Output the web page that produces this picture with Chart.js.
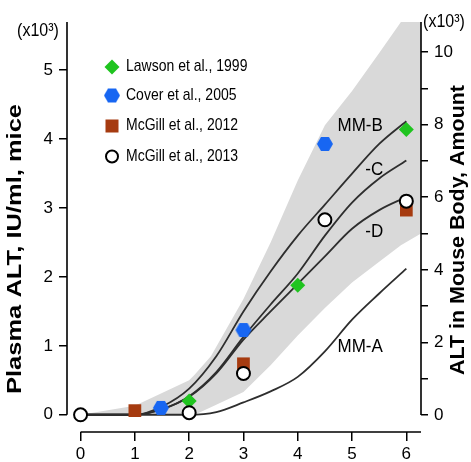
<!DOCTYPE html>
<html>
<head>
<meta charset="utf-8">
<script src="https://cdn.jsdelivr.net/npm/chart.js@4.4.0/dist/chart.umd.min.js"></script>
<style>
  body { margin: 0; background: #fff; }
  canvas { display: block; }
</style>
</head>
<body>
<canvas id="grafico" width="471" height="462"></canvas>
<script>
// Valores (x10^3, eje izquierdo)
const horasCurvas = [0, 1, 1.5, 2, 2.5, 3, 3.5, 4, 4.5, 5, 5.5, 6];
const curvaA = [0, 0, 0, 0, 0.04, 0.18, 0.34, 0.55, 0.92, 1.38, 1.76, 2.12];
const curvaB = [0, 0, 0.12, 0.38, 0.85, 1.5, 2.08, 2.6, 3.05, 3.5, 3.93, 4.26];
const curvaC = [0, 0, 0.08, 0.27, 0.62, 1.13, 1.6, 2.05, 2.6, 3.08, 3.43, 3.69];
const curvaD = [0, 0, 0.08, 0.26, 0.6, 1.09, 1.5, 1.9, 2.3, 2.7, 2.97, 3.16];

// Banda gris (limites superior e inferior)
const horasBanda = [0, 1, 2, 2.1, 2.4, 3, 3.5, 4, 4.5, 5, 5.5, 5.9, 6.27];
const bandaSup = [0, 0.13, 0.5, 0.58, 0.85, 1.68, 2.5, 3.4, 4.2, 4.7, 5.25, 5.7, 5.7];
const bandaInf = [0, 0, 0, 0, 0.11, 0.33, 0.72, 1.15, 1.55, 1.92, 2.22, 2.46, 2.63];

// Puntos experimentales
const lawsonX = [2, 4, 6];
const lawsonY = [0.2, 1.88, 4.14];
const coverX = [1.48, 3, 4.5];
const coverY = [0.1, 1.23, 3.93];
const mcgill12X = [1, 3, 6];
const mcgill12Y = [0.06, 0.74, 2.97];
const mcgill13X = [0, 2, 3, 4.5, 6];
const mcgill13Y = [0, 0.03, 0.6, 2.83, 3.1];

// Ticks
const ticksX = [0, 1, 2, 3, 4, 5, 6];
const ticksIzq = [0, 1, 2, 3, 4, 5];
const ticksDer = [0, 1, 2, 3, 4, 5, 6, 7, 8, 9, 10];

const etiquetasCurvas = [
  { texto: 'MM-B', x: 5.15, y: 4.19 },
  { texto: '-C', x: 5.41, y: 3.55 },
  { texto: '-D', x: 5.41, y: 2.65 },
  { texto: 'MM-A', x: 5.15, y: 0.99 }
];

const verde = '#1fc41f';
const azul = '#1766f2';
const marron = '#a63b10';
const fuente = '"Liberation Sans", Arial, sans-serif';

const puntos = (xs, ys) => xs.map((x, i) => ({ x: x, y: ys[i] }));

function hexagono(color, r) {
  const c = document.createElement('canvas');
  c.width = c.height = Math.ceil(r * 2) + 2;
  const g = c.getContext('2d');
  const m = c.width / 2;
  g.beginPath();
  for (let i = 0; i < 6; i++) {
    const a = Math.PI / 3 * i;
    g.lineTo(m + r * Math.cos(a), m + r * Math.sin(a));
  }
  g.closePath();
  g.fillStyle = color;
  g.fill();
  return c;
}
const hexAzul = hexagono(azul, 8);

function curva(datos) {
  return {
    type: 'line',
    data: puntos(horasCurvas, datos),
    borderColor: '#2e2e2e',
    borderWidth: 1.8,
    pointRadius: 0,
    fill: false,
    cubicInterpolationMode: 'monotone',
    order: 5
  };
}

function textoEstirado(ctx, texto, x, y, rot, sx, sy) {
  ctx.save();
  ctx.translate(x, y);
  ctx.rotate(rot);
  ctx.scale(sx, sy);
  ctx.fillText(texto, 0, 0);
  ctx.restore();
}

const decorado = {
  id: 'decorado',
  afterDraw(chart) {
    const { ctx, scales: { x, y, y1 } } = chart;
    ctx.save();
    // ejes
    ctx.strokeStyle = '#000';
    ctx.lineWidth = 1.6;
    ctx.beginPath();
    ctx.moveTo(x.left, y.top);
    ctx.lineTo(x.left, y.getPixelForValue(0));
    ctx.moveTo(x.right, y.top);
    ctx.lineTo(x.right, y1.getPixelForValue(0));
    ctx.moveTo(x.getPixelForValue(0), x.top);
    ctx.lineTo(x.right, x.top);
    ctx.stroke();

    ctx.fillStyle = '#000';
    ctx.textAlign = 'center';
    ctx.textBaseline = 'middle';

    // titulos de ejes
    ctx.font = 'bold 20px ' + fuente;
    const t1 = 'Plasma ALT, IU/ml, mice';
    textoEstirado(ctx, t1, 15, 249, -Math.PI / 2, 290 / ctx.measureText(t1).width, 1);
    const t2 = 'ALT in Mouse Body, Amount';
    textoEstirado(ctx, t2, 458, 230, -Math.PI / 2, 290 / ctx.measureText(t2).width, 1);

    // multiplicadores
    ctx.font = '16px ' + fuente;
    textoEstirado(ctx, '(x10\u00B3)', 38, 31, 0, 1, 1.15);
    textoEstirado(ctx, '(x10\u00B3)', 444, 22, 0, 1, 1.15);

    // etiquetas de curvas
    ctx.font = '17px ' + fuente;
    etiquetasCurvas.forEach(e => {
      textoEstirado(ctx, e.texto, x.getPixelForValue(e.x), y.getPixelForValue(e.y), 0, 1, 1.12);
    });

    // leyenda
    const filas = [
      { texto: 'Lawson et al., 1999', y: 67 },
      { texto: 'Cover et al., 2005', y: 95.5 },
      { texto: 'McGill et al., 2012', y: 126 },
      { texto: 'McGill et al., 2013', y: 156.5 }
    ];
    const mx = 112;
    // diamante
    ctx.fillStyle = verde;
    ctx.beginPath();
    ctx.moveTo(mx, filas[0].y - 7.5);
    ctx.lineTo(mx + 7.5, filas[0].y);
    ctx.lineTo(mx, filas[0].y + 7.5);
    ctx.lineTo(mx - 7.5, filas[0].y);
    ctx.closePath();
    ctx.fill();
    // hexagono
    ctx.drawImage(hexAzul, mx - hexAzul.width / 2, filas[1].y - hexAzul.height / 2);
    // cuadrado
    ctx.fillStyle = marron;
    ctx.fillRect(mx - 6.5, filas[2].y - 6.5, 13, 13);
    // circulo
    ctx.beginPath();
    ctx.arc(mx, filas[3].y, 6, 0, Math.PI * 2);
    ctx.fillStyle = '#fff';
    ctx.fill();
    ctx.lineWidth = 2;
    ctx.strokeStyle = '#000';
    ctx.stroke();

    ctx.fillStyle = '#000';
    ctx.textAlign = 'left';
    ctx.font = '14px ' + fuente;
    filas.forEach(f => textoEstirado(ctx, f.texto, 126, f.y, 0, 1, 1.15));
    ctx.restore();
  }
};

Chart.defaults.font.family = fuente;
Chart.defaults.color = '#000';

new Chart(document.getElementById('grafico'), {
  type: 'scatter',
  data: {
    datasets: [
      { label: 'Lawson et al., 1999', data: puntos(lawsonX, lawsonY), pointStyle: 'rectRot',
        pointRadius: 7.5, backgroundColor: verde, borderWidth: 0, order: 1 },
      { label: 'Cover et al., 2005', data: puntos(coverX, coverY), pointStyle: hexAzul,
        pointRadius: 8, backgroundColor: azul, borderWidth: 0, order: 1 },
      { label: 'McGill et al., 2012', data: puntos(mcgill12X, mcgill12Y), pointStyle: 'rect',
        pointRadius: 9, backgroundColor: marron, borderWidth: 0, order: 1 },
      { label: 'McGill et al., 2013', data: puntos(mcgill13X, mcgill13Y), pointStyle: 'circle',
        pointRadius: 6.5, backgroundColor: '#fff', borderColor: '#000', borderWidth: 2, order: 0 },
      curva(curvaA),
      curva(curvaB),
      curva(curvaC),
      curva(curvaD),
      { type: 'line', data: puntos(horasBanda, bandaSup), borderWidth: 0, pointRadius: 0,
        tension: 0, fill: '+1', backgroundColor: '#d9d9d9', order: 10 },
      { type: 'line', data: puntos(horasBanda, bandaInf), borderWidth: 0, pointRadius: 0,
        tension: 0, fill: false, order: 10 }
    ]
  },
  options: {
    responsive: false,
    animation: false,
    events: [],
    layout: { padding: { top: 22, left: 0, right: 0, bottom: 0 } },
    plugins: { legend: { display: false }, tooltip: { enabled: false } },
    scales: {
      x: {
        type: 'linear', min: -0.25, max: 6.27,
        afterBuildTicks: s => { s.ticks = ticksX.map(v => ({ value: v })); },
        afterFit: s => { s.height = 30; },
        grid: { drawOnChartArea: false, tickLength: 9, color: '#000', lineWidth: 1.5 },
        border: { display: false },
        ticks: { padding: 3, maxRotation: 0, font: { size: 17 } }
      },
      y: {
        type: 'linear', position: 'left', min: -0.25, max: 5.7,
        afterBuildTicks: s => { s.ticks = ticksIzq.map(v => ({ value: v })); },
        afterFit: s => { s.width = 67; },
        grid: { drawOnChartArea: false, tickLength: 8, color: '#000', lineWidth: 1.5 },
        border: { display: false },
        ticks: { padding: 6, font: { size: 17 } }
      },
      y1: {
        type: 'linear', position: 'right', min: -0.47, max: 10.83,
        afterBuildTicks: s => { s.ticks = ticksDer.map(v => ({ value: v })); },
        afterFit: s => { s.width = 50; },
        grid: { drawOnChartArea: false, tickLength: 7, color: '#000', lineWidth: 1.5 },
        border: { display: false },
        ticks: { padding: 6, font: { size: 17 }, callback: v => (v % 2 === 0 ? v : '') }
      }
    }
  },
  plugins: [decorado]
});
</script>
</body>
</html>
